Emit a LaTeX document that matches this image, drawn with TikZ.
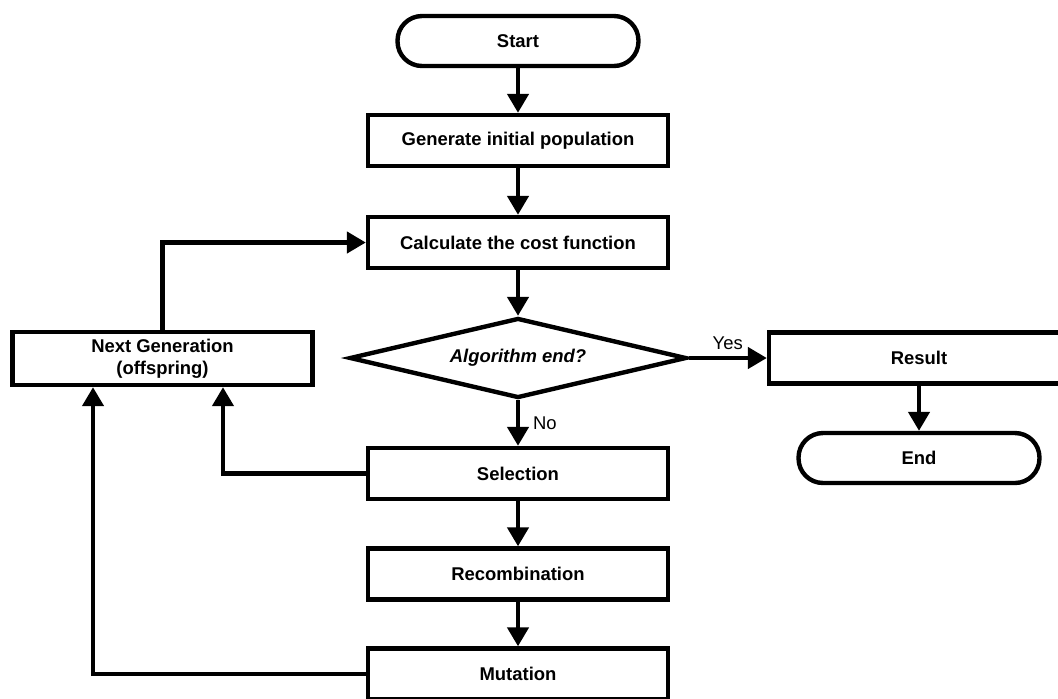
\documentclass[tikz,border=0pt]{standalone}
\usepackage{fontspec}
\setmainfont{Liberation Sans}
\usetikzlibrary{shapes.geometric,arrows.meta}

\begin{document}
\begin{tikzpicture}[x=0.02cm,y=-0.02cm,
        box/.style={draw,line width=2.5pt,minimum width=6cm,minimum height=1.02cm,inner sep=0pt,align=center,font=\fontsize{10.5}{12.5}\selectfont\bfseries},
        term/.style={box,rounded corners=0.49cm,minimum width=4.82cm,minimum height=1cm},
        decision/.style={draw,diamond,aspect=4.2,line width=2.5pt,minimum width=6.74cm,minimum height=1.6cm,inner sep=0pt,font=\fontsize{10.5}{12.5}\selectfont\bfseries\itshape},
        flow/.style={line width=2.5pt,-{Triangle[width=0.42cm,length=0.38cm]}},
        lbl/.style={font=\fontsize{10.5}{12.5}\selectfont}]
        \useasboundingbox (0,0) rectangle (1058,698);
        \clip (0,0) rectangle (1058,698);
        % main column
        \node[term] (start) at (518,41) {Start};
        \node[box] (gen) at (518,140.5) {Generate initial population};
        \node[box] (cost) at (518,242.5) {Calculate the cost function};
        \node[decision] (algend) at (518,358) {Algorithm end?};
        \node[box] (sel) at (518,473.5) {Selection};
        \node[box] (recomb) at (518,574) {Recombination};
        \node[box] (mut) at (518,674) {Mutation};
        % right and left
        \node[box] (result) at (919,358) {Result};
        \node[term] (end) at (919,458) {End};
        \node[box,minimum height=1.06cm] (next) at (162.5,358.5) {Next Generation\\(offspring)};

        \draw[flow] (start) -- (gen);
        \draw[flow] (gen) -- (cost);
        \draw[flow] (cost) -- (algend);
        \draw[flow] (algend) -- node[lbl,right,xshift=4pt]{No} (sel);
        \draw[flow] (sel) -- (recomb);
        \draw[flow] (recomb) -- (mut);
        \draw[flow] (algend) -- node[lbl,above]{Yes} (result);
        \draw[flow] (result) -- (end);
        \draw[flow] (next.north) |- (cost.west);
        \draw[flow] (sel.west) -| ([xshift=1.21cm]next.south);
        \draw[flow] (mut.west) -| ([xshift=-1.39cm]next.south);
    \end{tikzpicture}
\end{document}
